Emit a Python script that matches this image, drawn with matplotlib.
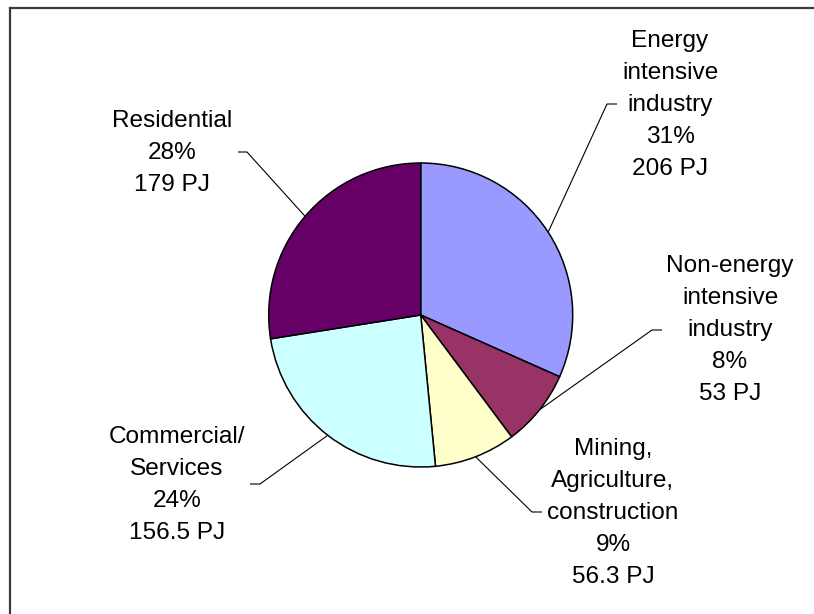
import numpy as np
import matplotlib
matplotlib.use("Agg")
import matplotlib.pyplot as plt
from matplotlib.lines import Line2D

# Final energy use by sector
sectors = ["Energy intensive industry", "Non-energy intensive industry",
           "Mining, Agriculture, construction", "Commercial/ Services", "Residential"]
energy_pj = [206, 53, 56.3, 156.5, 179]
share_labels = ["31%", "8%", "9%", "24%", "28%"]
pj_labels = ["206 PJ", "53 PJ", "56.3 PJ", "156.5 PJ", "179 PJ"]
name_lines = [["Energy", "intensive", "industry"],
              ["Non-energy", "intensive", "industry"],
              ["Mining,", "Agriculture,", "construction"],
              ["Commercial/", "Services"],
              ["Residential"]]
colors = ["#9999FF", "#993366", "#FFFFCC", "#CCFFFF", "#660066"]

W, H = 814, 614
fig = plt.figure(figsize=(W / 100, H / 100), dpi=100)
ax = fig.add_axes([0, 0, 1, 1])

cx, cy, r = 420.7, H - 315.0, 152.0
wedges, _ = ax.pie(energy_pj, colors=colors, startangle=90, counterclock=False,
                   center=(cx, cy), radius=r,
                   wedgeprops=dict(edgecolor="black", linewidth=1.1))
ax.set_xlim(0, W)
ax.set_ylim(0, H)
ax.set_aspect("equal")
ax.axis("off")

# label block: (centre x, first baseline y from top), elbow of the leader
label_pos = [(670, 46.7), (730, 271.7), (613, 455.0), (177, 442.7), (172, 126.7)]
elbows = [((617, 104), (607, 104)),
          ((662, 330), (652, 330)),
          ((542, 512), (532, 512)),
          ((250, 484), (260, 484)),
          ((238, 152), (247, 152))]
step = 32.1
font = dict(family=["Liberation Sans", "DejaVu Sans"], size=17.6, color="black")

for i, w in enumerate(wedges):
    lines = name_lines[i] + [share_labels[i], pj_labels[i]]
    x0, y0 = label_pos[i]
    for k, s in enumerate(lines):
        ax.text(x0, H - (y0 + k * step), s, ha="center", va="baseline", **font)
    # leader line from the wedge edge to the label
    mid = np.deg2rad((w.theta1 + w.theta2) / 2)
    px, py = cx + r * np.cos(mid), cy + r * np.sin(mid)
    (ax0, ay0), (ax1, ay1) = elbows[i]
    ax.plot([ax0, ax1, px], [H - ay0, H - ay1, py], color="black", lw=0.8,
            solid_capstyle="butt", zorder=0.5)

# chart-area border (top and left edges)
fig.add_artist(Line2D([10 / W, 1], [1 - 7.5 / H, 1 - 7.5 / H], color="#3a3a3a", lw=1.6))
fig.add_artist(Line2D([10 / W, 10 / W], [0, 1 - 7.5 / H], color="#3a3a3a", lw=1.6))

fig.savefig("out.png", dpi=100, facecolor="white")
